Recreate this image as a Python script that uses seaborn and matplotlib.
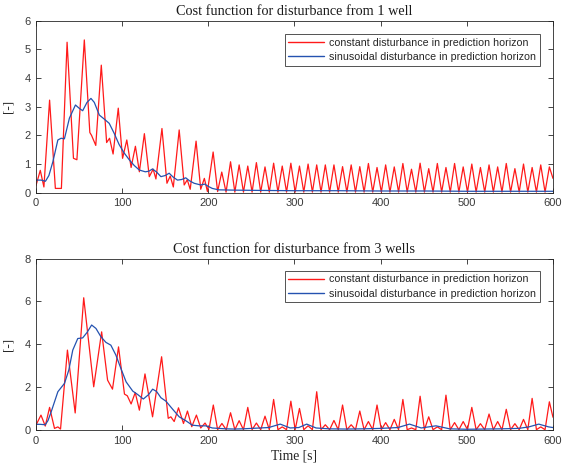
import numpy as np
import pandas as pd
import matplotlib
matplotlib.use("Agg")
import matplotlib.pyplot as plt
import seaborn as sns

# ---------------- data ----------------
# Top panel: disturbance from 1 well
top_red_t = [0, 5, 9.2, 15.8, 22.5, 29.5, 36.1, 43.5, 47.5, 56.1, 62.5, 64.5, 69.4, 75.8,
             82.0, 85.4, 89.5, 95.5, 100.5, 105.4, 110.4, 115.4, 120.0, 125.8, 131.5, 136.0,
             139.2, 146.2, 152.0, 155.8, 159.4, 166.2, 172.0, 175.6, 179.0, 185.8, 191.2,
             195.4, 199.0, 205.6, 210.8, 215.6, 220.6,
             225.8, 230.8, 235.8, 240.8, 245.8, 250.8, 255.8, 260.8, 265.8, 270.8,
             275.8, 280.8, 285.8, 290.8, 295.8, 300.8, 305.8, 310.8, 315.8, 320.8,
             325.8, 330.8, 335.8, 340.8, 345.8, 350.8, 355.8, 360.8, 365.8, 370.8,
             375.8, 380.8, 385.8, 390.8, 395.8, 400.8, 405.8, 410.8, 415.8, 420.8,
             425.8, 430.8, 435.8, 440.8, 445.8, 450.8, 455.8, 460.8, 465.8, 470.8,
             475.8, 480.8, 485.8, 490.8, 495.8, 500.8, 505.8, 510.8, 515.8, 520.8,
             525.8, 530.8, 535.8, 540.8, 545.8, 550.8, 555.8, 560.8, 565.8, 570.8,
             575.8, 580.8, 585.8, 590.8, 595.8, 600]
top_red_v = [0.25, 0.78, 0.2, 3.23, 0.15, 0.15, 5.25, 1.2, 1.15, 5.33, 2.1, 2.0, 1.65, 4.45,
             1.75, 1.9, 1.35, 2.95, 1.2, 1.84, 0.88, 1.62, 0.73, 2.06, 0.56, 0.82,
             0.48, 2.24, 0.33, 0.58, 0.2, 2.19, 0.27, 0.45, 0.12, 1.8, 0.12,
             0.5, 0.04, 1.42, 0.04, 0.72, 0.02,
             1.08, 0.02, 0.97, 0.02, 0.93, 0.02, 1.05, 0.02, 0.90, 0.02,
             1.03, 0.02, 0.93, 0.02, 1.03, 0.02, 0.93, 0.02, 1.00, 0.02,
             0.97, 0.02, 0.97, 0.02, 0.97, 0.02, 0.91, 0.02, 0.97, 0.02,
             0.91, 0.02, 1.02, 0.02, 0.88, 0.02, 0.97, 0.02, 0.90, 0.02,
             1.02, 0.02, 0.82, 0.02, 1.03, 0.02, 0.84, 0.02, 1.02, 0.02,
             0.88, 0.02, 1.02, 0.02, 0.90, 0.02, 1.00, 0.02, 0.88, 0.02,
             0.97, 0.02, 0.90, 0.02, 1.02, 0.02, 0.84, 0.02, 1.00, 0.02,
             0.88, 0.02, 0.97, 0.02, 0.90, 0.5]

top_blue_t = [0, 6, 11, 15, 19.6, 25.4, 29.2, 33, 38.8, 45.8, 50.4, 54.2, 59.2, 63.8, 67.7,
              73.5, 79.2, 85, 90.8, 96.5, 102, 108.5, 114, 120, 126.9, 131, 135.3, 140, 145,
              150, 154.6, 159, 164.2, 169, 173.8, 178, 183.5, 191.2, 195.8, 200, 204.6, 212,
              230, 260, 300, 350, 400, 450, 500, 550, 600]
top_blue_v = [0.44, 0.44, 0.4, 0.6, 1.08, 1.84, 1.9, 1.88, 2.6, 3.06, 2.94, 2.86, 3.15, 3.29,
              3.15, 2.71, 2.57, 2.42, 2.07, 1.68, 1.4, 1.14, 0.95, 0.79, 0.73, 0.75, 0.83,
              0.72, 0.56, 0.6, 0.68, 0.55, 0.44, 0.46, 0.52, 0.42, 0.33, 0.27, 0.3, 0.22,
              0.15, 0.1, 0.09, 0.08, 0.07, 0.07, 0.06, 0.06, 0.05, 0.05, 0.05]

# Bottom panel: disturbance from 3 wells
bot_red_t = [0, 5.8, 10.8, 15.8, 21.5, 25.4, 28.5, 36.5, 45.5, 55.4, 67.0, 76.2, 83.1, 88.8,
             95.8, 102.7, 106.0, 110.4, 115.2, 120.0, 126.5, 135.3, 145.8, 153.5, 156.5,
             160.4, 165.4, 171.2, 175.8, 180.8, 186.2, 191.2, 196.2, 200.8,
             205.8, 210.8, 215.8, 220.8, 225.8, 230.8, 235.8, 240.8, 245.8, 250.8,
             255.8, 260.8, 265.8, 270.8, 275.8, 280.8, 285.8, 290.8, 295.8, 300.8,
             305.8, 310.8, 315.8, 320.8, 325.8, 330.8, 335.8, 340.8, 345.8, 350.8,
             355.8, 360.8, 365.8, 370.8, 375.8, 380.8, 385.8, 390.8, 395.8, 400.8,
             405.8, 410.8, 415.8, 420.8, 425.8, 430.8, 435.8, 440.8, 445.8, 450.8,
             455.8, 460.8, 465.8, 470.8, 475.8, 480.8, 485.8, 490.8, 495.8, 500.8,
             505.8, 510.8, 515.8, 520.8, 525.8, 530.8, 535.8, 540.8, 545.8, 550.8,
             555.8, 560.8, 565.8, 570.8, 575.8, 580.8, 585.8, 590.8, 595.8, 600]
bot_red_v = [0.23, 0.7, 0.19, 1.06, 0.08, 0.15, 0.05, 3.73, 0.8, 6.17, 2.02, 4.58, 2.33, 1.91,
             3.88, 1.68, 1.6, 1.22, 1.75, 0.93, 2.62, 0.62, 3.42, 0.55, 0.62,
             0.4, 1.04, 0.31, 0.89, 0.16, 0.7, 0.1, 0.33, 0.04,
             1.17, 0.02, 0.31, 0.02, 0.81, 0.02, 0.44, 0.02, 1.06, 0.02,
             0.33, 0.02, 0.65, 0.02, 1.43, 0.02, 0.15, 0.02, 1.35, 0.02,
             1.01, 0.02, 0.20, 0.02, 1.79, 0.02, 0.25, 0.02, 0.45, 0.02,
             1.17, 0.02, 0.25, 0.02, 0.89, 0.02, 0.40, 0.02, 1.17, 0.02,
             0.35, 0.02, 0.50, 0.02, 1.43, 0.02, 0.10, 0.02, 1.58, 0.02,
             0.62, 0.02, 0.15, 0.02, 1.63, 0.02, 0.35, 0.02, 0.40, 0.02,
             1.06, 0.02, 0.30, 0.02, 0.75, 0.02, 0.40, 0.02, 0.97, 0.02,
             0.30, 0.02, 0.50, 0.02, 1.48, 0.02, 0.15, 0.02, 1.32, 0.6]

bot_blue_t = [0, 5, 10.8, 14, 17.7, 25.4, 33.1, 38.1, 42.7, 48.5, 54.2, 59.2, 64.6, 69.6, 75.4,
              81.2, 86.9, 92.7, 98.5, 104.6, 112.3, 118, 124.6, 130.8, 135.4, 140, 145, 150.8,
              158.5, 166.2, 173.8, 181.5, 189.2, 197, 204.6, 212, 220, 230, 240, 250, 260, 270,
              283.5, 295, 305, 314.2, 325, 340, 360, 380, 400, 420, 433.5, 447, 464.2, 480,
              500, 520, 540, 560, 572, 583.5, 595, 600]
bot_blue_v = [0.27, 0.27, 0.25, 0.45, 0.86, 1.79, 2.18, 2.8, 3.73, 4.27, 4.3, 4.55, 4.9, 4.74,
              4.35, 4.09, 3.96, 3.5, 2.88, 2.25, 1.82, 1.66, 1.45, 1.66, 1.91, 1.8, 1.51, 1.35,
              0.98, 0.62, 0.44, 0.23, 0.2, 0.2, 0.1, 0.08, 0.06, 0.05, 0.06, 0.08, 0.1, 0.12,
              0.28, 0.1, 0.12, 0.28, 0.1, 0.06, 0.05, 0.06, 0.08, 0.12, 0.28, 0.1, 0.2, 0.06,
              0.04, 0.05, 0.06, 0.08, 0.15, 0.28, 0.15, 0.12]

titles = ["Cost function for disturbance from 1 well",
          "Cost function for disturbance from 3 wells"]
labels = ["constant disturbance in prediction horizon",
          "sinusoidal disturbance in prediction horizon"]
x_ticks = [0, 100, 200, 300, 400, 500, 600]
top_y_ticks = [0, 1, 2, 3, 4, 5, 6]
bot_y_ticks = [0, 2, 4, 6, 8]

# ---------------- styling ----------------
sns.set_style("ticks")
plt.rcParams["font.family"] = ["Liberation Sans", "DejaVu Sans"]

RED = "#ff1a1a"
BLUE = "#2452b0"
AX_COL = "#262626"
SERIF = ["Liberation Serif", "DejaVu Serif"]

fig = plt.figure(figsize=(5.63, 4.69), dpi=100)
ax1 = fig.add_axes([0.0639, 0.5891, 0.9183, 0.3667])
ax2 = fig.add_axes([0.0639, 0.0829, 0.9183, 0.3659])

panels = [
    (ax1, top_red_t, top_red_v, top_blue_t, top_blue_v, 6, top_y_ticks, titles[0], 0.923),
    (ax2, bot_red_t, bot_red_v, bot_blue_t, bot_blue_v, 8, bot_y_ticks, titles[1], 0.929),
]

for ax, rt, rv, bt, bv, ymax, yt, title, leg_top in panels:
    dfr = pd.DataFrame({"t": rt, "v": rv})
    dfb = pd.DataFrame({"t": bt, "v": bv})
    sns.lineplot(data=dfr, x="t", y="v", ax=ax, color=RED, lw=0.9,
                 estimator=None, label=labels[0])
    sns.lineplot(data=dfb, x="t", y="v", ax=ax, color=BLUE, lw=0.9,
                 estimator=None, label=labels[1])
    for ln in ax.get_lines():
        ln.set_solid_joinstyle("round")
    ax.set_xlim(0, 600)
    ax.set_ylim(0, ymax)
    ax.set_xticks(x_ticks)
    ax.set_yticks(yt)
    ax.set_xlabel("")
    ax.set_ylabel("[-]", fontfamily=SERIF, fontsize=9.5, color=AX_COL, labelpad=7)
    ax.set_title(title, fontfamily=SERIF, fontsize=10.3, color="#1a1a1a", pad=4)
    for s in ax.spines.values():
        s.set_visible(True)
        s.set_color(AX_COL)
        s.set_linewidth(0.6)
    ax.tick_params(direction="in", length=3.5, width=0.6, color=AX_COL,
                   labelcolor="#3a3a3a", labelsize=8.0, top=True, right=True, pad=4)
    leg = ax.legend(loc="upper right", bbox_to_anchor=(0.9744, leg_top),
                    borderaxespad=0, fontsize=7.7, frameon=True, fancybox=False,
                    edgecolor=AX_COL, handlelength=3.3, handletextpad=0.5,
                    borderpad=0.35, labelspacing=0.4)
    leg.get_frame().set_linewidth(0.7)
    for line in leg.get_lines():
        line.set_linewidth(1.0)

ax2.set_xlabel("Time [s]", fontfamily=SERIF, fontsize=9.8, color=AX_COL, labelpad=3)

fig.savefig("out.png", dpi=100, facecolor="white")
